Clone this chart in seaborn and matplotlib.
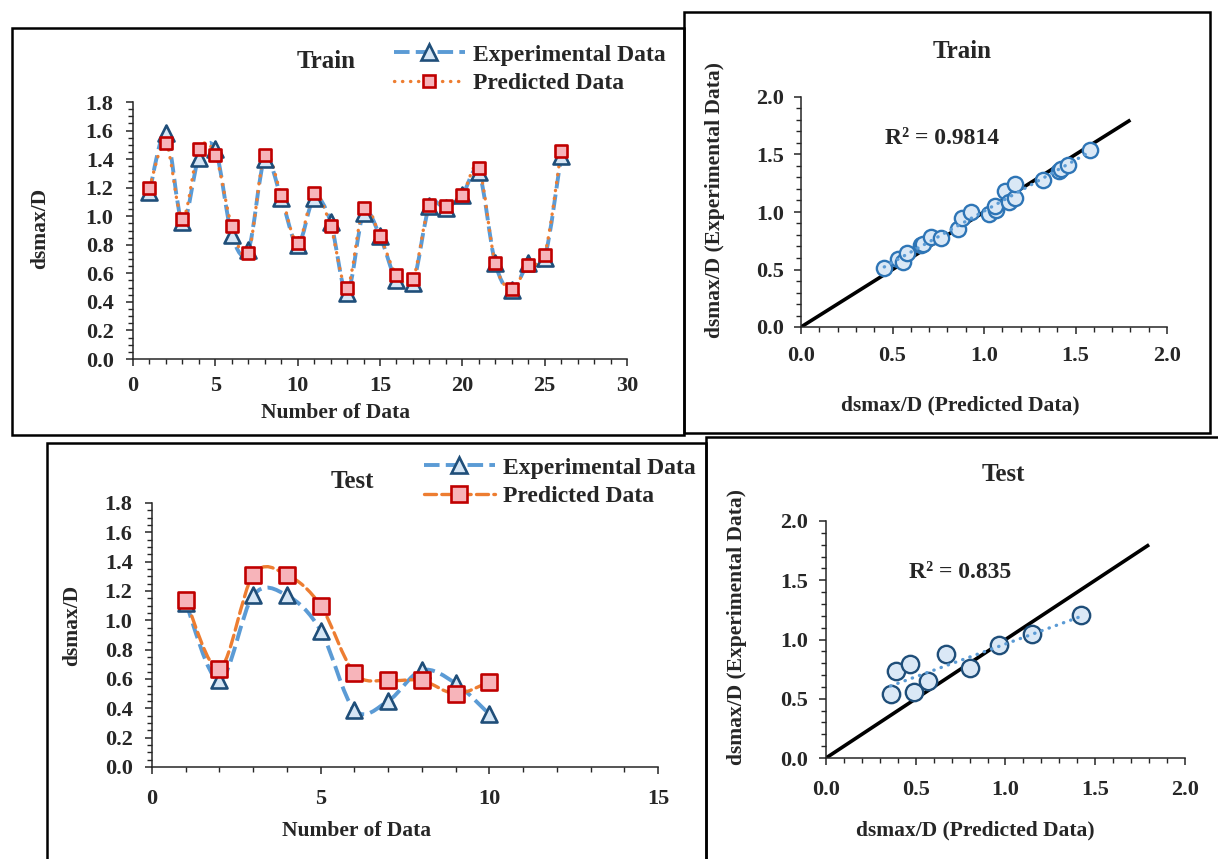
import numpy as np
import matplotlib
matplotlib.use('Agg')
import matplotlib.pyplot as plt
import seaborn as sns
from matplotlib.path import Path
from matplotlib.patches import PathPatch, Rectangle
from matplotlib.lines import Line2D
from matplotlib.ticker import MultipleLocator, FormatStrFormatter

# ---- data ----
train_no = list(range(1, 27))
train_exp = [1.17, 1.58, 0.96, 1.41, 1.47, 0.87, 0.76, 1.40, 1.13, 0.80, 1.13, 0.96, 0.46,
             1.02, 0.86, 0.55, 0.53, 1.07, 1.06, 1.15, 1.31, 0.67, 0.48, 0.67, 0.71, 1.42]
train_pred = [1.20, 1.51, 0.98, 1.47, 1.43, 0.93, 0.74, 1.43, 1.15, 0.81, 1.16, 0.93, 0.50,
              1.06, 0.86, 0.59, 0.56, 1.08, 1.07, 1.15, 1.34, 0.67, 0.49, 0.66, 0.73, 1.46]

test_no = list(range(1, 11))
test_exp = [1.12, 0.59, 1.17, 1.17, 0.93, 0.39, 0.45, 0.66, 0.57, 0.36]
test_pred = [1.14, 0.67, 1.31, 1.31, 1.10, 0.64, 0.59, 0.59, 0.50, 0.58]

# scatter (predicted on x, experimental on y)
train_sc_x = [0.455, 0.53, 0.555, 0.58, 0.655, 0.665, 0.71, 0.765, 0.86, 0.88, 0.93, 1.025,
              1.065, 1.06, 1.115, 1.135, 1.17, 1.17, 1.32, 1.41, 1.42, 1.46, 1.58]
train_sc_y = [0.51, 0.59, 0.565, 0.645, 0.715, 0.725, 0.78, 0.77, 0.85, 0.95, 1.0, 0.98,
              1.02, 1.05, 1.18, 1.09, 1.125, 1.24, 1.28, 1.36, 1.37, 1.41, 1.535]
test_sc_x = [0.36, 0.39, 0.47, 0.49, 0.57, 0.67, 0.80, 0.965, 1.15, 1.42]
test_sc_y = [0.54, 0.73, 0.79, 0.56, 0.65, 0.88, 0.76, 0.95, 1.05, 1.21]

r2_train = 'R² = 0.9814'
r2_test = 'R² = 0.835'
diag = [0.0, 1.8]

W, H = 1218, 859
BLUE = '#5B9BD5'
NAVY = '#1F4E79'
TRI_FILL = '#D6E6F5'
ORANGE = '#ED7D31'
RED = '#C00000'
SQ_FILL = '#F7B4BA'
CIRC_EDGE = '#2E75B6'
CIRC_FILL = '#DAE8F6'

sns.set_style('ticks')
plt.rcParams['font.family'] = ['Liberation Serif', 'DejaVu Serif']
plt.rcParams['font.weight'] = 'bold'
plt.rcParams['axes.labelweight'] = 'bold'
plt.rcParams['axes.linewidth'] = 1.1
plt.rcParams['xtick.direction'] = 'out'
plt.rcParams['ytick.direction'] = 'out'

fig = plt.figure(figsize=(W / 100, H / 100), dpi=100)
fig.patch.set_facecolor('white')

TICK = 16
LAB = 15.5
TITLE = 18
LEG = 17
R2 = 17


def px_axes(x0, x1, y_top, y_bot):
    return fig.add_axes([x0 / W, 1 - y_bot / H, (x1 - x0) / W, (y_bot - y_top) / H])


def fig_text(x, y, s, size, rot=0):
    fig.text(x / W, 1 - y / H, s, fontsize=size, fontweight='bold', rotation=rot,
             ha='center', va='center')


def smooth_path(xs, ys):
    # Excel-like smoothed line: Catmull-Rom segments as cubic Bezier curves
    p = np.column_stack([xs, ys]).astype(float)
    ext = np.vstack([p[0], p, p[-1]])
    verts = [p[0]]
    codes = [Path.MOVETO]
    for i in range(len(p) - 1):
        p0, p1, p2, p3 = ext[i], ext[i + 1], ext[i + 2], ext[i + 3]
        verts += [p1 + (p2 - p0) / 6, p2 - (p3 - p1) / 6, p2]
        codes += [Path.CURVE4] * 3
    return Path(verts, codes)


def style_axes(ax, xmax, xmaj, xmin, ymax, ymaj, ymin, xpad, ypad, xfmt=None):
    sns.despine(ax=ax)
    ax.set_xlim(0, xmax)
    ax.set_ylim(0, ymax)
    ax.xaxis.set_major_locator(MultipleLocator(xmaj))
    ax.xaxis.set_minor_locator(MultipleLocator(xmin))
    ax.yaxis.set_major_locator(MultipleLocator(ymaj))
    ax.yaxis.set_minor_locator(MultipleLocator(ymin))
    ax.yaxis.set_major_formatter(FormatStrFormatter('%.1f'))
    if xfmt:
        ax.xaxis.set_major_formatter(FormatStrFormatter(xfmt))
    ax.tick_params(which='major', length=5, width=1.1, labelsize=TICK)
    ax.tick_params(axis='x', which='major', pad=xpad)
    ax.tick_params(axis='y', which='major', pad=ypad)
    ax.tick_params(which='minor', length=3.5, width=1.0)
    for lab in ax.get_xticklabels() + ax.get_yticklabels():
        lab.set_fontweight('bold')
    ax.set_xlabel('')
    ax.set_ylabel('')
    ax.patch.set_alpha(0)


def line_panel(ax, xs, exp, pred, pred_ls, ms_tri, ms_sq):
    ax.add_patch(PathPatch(smooth_path(xs, exp), fill=False, edgecolor=BLUE, lw=2.8,
                           linestyle=(0, (4, 1.6)), capstyle='butt'))
    ax.add_patch(PathPatch(smooth_path(xs, pred), fill=False, edgecolor=ORANGE, lw=2.4,
                           linestyle=pred_ls, capstyle='round'))
    sns.scatterplot(x=xs, y=exp, marker='^', s=ms_tri ** 2, color=TRI_FILL,
                    edgecolor=NAVY, linewidth=1.9, ax=ax, zorder=3)
    sns.scatterplot(x=xs, y=pred, marker='s', s=ms_sq ** 2, color=SQ_FILL,
                    edgecolor=RED, linewidth=1.9, ax=ax, zorder=4)


def legend(ax, x, y, pred_ls, ms_tri, ms_sq):
    h1 = Line2D([], [], color=BLUE, lw=2.8, ls=(0, (4, 1.6)), marker='^', ms=ms_tri,
                mfc=TRI_FILL, mec=NAVY, mew=1.9)
    h2 = Line2D([], [], color=ORANGE, lw=2.4, ls=pred_ls, marker='s', ms=ms_sq,
                mfc=SQ_FILL, mec=RED, mew=1.9, dash_capstyle='round')
    ax.legend([h1, h2], ['Experimental Data', 'Predicted Data'], loc='upper left',
              bbox_to_anchor=(x / W, 1 - y / H), bbox_transform=fig.transFigure,
              frameon=False, handlelength=3.0, handletextpad=0.35, labelspacing=0.3,
              borderpad=0, borderaxespad=0, prop={'weight': 'bold', 'size': LEG})


def scatter_panel(ax, sx, sy, edge, d):
    ax.plot(diag, diag, color='black', lw=2.6, solid_capstyle='butt', zorder=2)
    sns.scatterplot(x=sx, y=sy, s=d ** 2, color=CIRC_FILL, edgecolor=edge,
                    linewidth=1.7, ax=ax, zorder=3)
    sns.regplot(x=np.array(sx), y=np.array(sy), scatter=False, ci=None, ax=ax,
                line_kws=dict(color=BLUE, lw=2.4, ls=(0, (0.1, 2.2)),
                              dash_capstyle='round', zorder=4))


# ---- frames ----
for (x0, y0, x1, y1) in [(12, 28, 684, 435), (684, 12, 1210, 433),
                         (47, 443, 706, 875), (706, 437, 1230, 875)]:
    fig.add_artist(Rectangle((x0 / W, 1 - y1 / H), (x1 - x0) / W, (y1 - y0) / H,
                             transform=fig.transFigure, fill=False, lw=1.8,
                             edgecolor='black', zorder=0))

DOT = (0, (0.1, 2.3))
DASH = (0, (3.6, 1.6))

# ---- top left: Train line chart ----
ax1 = px_axes(133, 627, 102, 359)
line_panel(ax1, train_no, train_exp, train_pred, DOT, 11.5, 9)
style_axes(ax1, 30, 5, 1, 1.8, 0.2, 0.05, 7, 9)
fig_text(336, 413, 'Number of Data', LAB)
fig_text(40, 228, 'dsmax/D', LAB, 90)
fig_text(326, 62, 'Train', TITLE)
legend(ax1, 394, 44, DOT, 11.5, 9)

# ---- top right: Train scatter ----
ax2 = px_axes(801, 1167, 97, 327)
scatter_panel(ax2, train_sc_x, train_sc_y, CIRC_EDGE, 11)
style_axes(ax2, 2.0, 0.5, 0.1, 2.0, 0.5, 0.1, 9, 7, '%.1f')
fig_text(960, 405, 'dsmax/D (Predicted Data)', LAB)
fig_text(715, 200, 'dsmax/D (Experimental Data)', LAB, 90)
fig_text(962, 52, 'Train', TITLE)
fig_text(942, 139, r2_train, R2)

# ---- bottom left: Test line chart ----
ax3 = px_axes(152, 658, 503, 767)
line_panel(ax3, test_no, test_exp, test_pred, DASH, 11.5, 11)
style_axes(ax3, 15, 5, 1, 1.8, 0.2, 0.05, 11, 9)
fig_text(357, 831, 'Number of Data', LAB)
fig_text(72, 625, 'dsmax/D', LAB, 90)
fig_text(352, 481, 'Test', TITLE)
legend(ax3, 424, 457, DASH, 11.5, 11)

# ---- bottom right: Test scatter ----
ax4 = px_axes(826, 1185, 521, 758)
scatter_panel(ax4, test_sc_x, test_sc_y, NAVY, 12.5)
style_axes(ax4, 2.0, 0.5, 0.1, 2.0, 0.5, 0.1, 11, 8, '%.1f')
fig_text(975, 830, 'dsmax/D (Predicted Data)', LAB)
fig_text(737, 627, 'dsmax/D (Experimental Data)', LAB, 90)
fig_text(1003, 475, 'Test', TITLE)
fig_text(960, 572, r2_test, R2)

fig.savefig('out.png', dpi=100, facecolor='white')
